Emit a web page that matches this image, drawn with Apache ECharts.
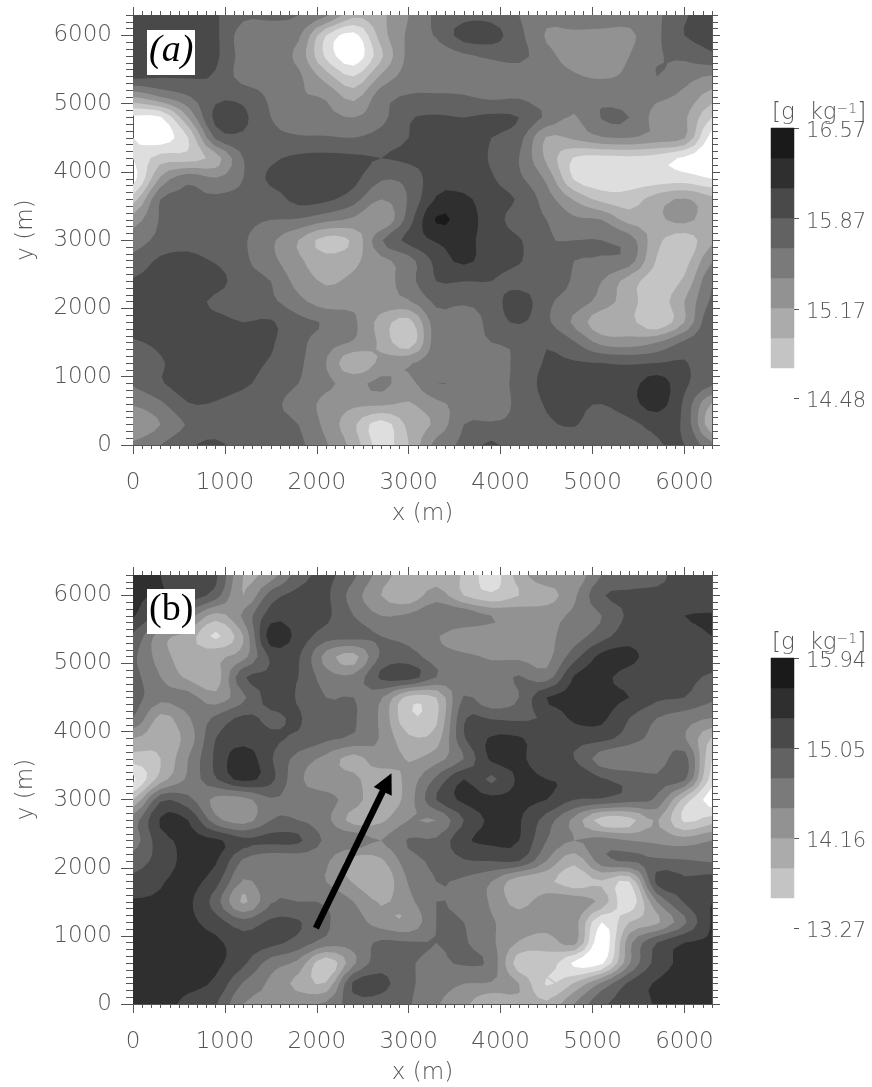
<!DOCTYPE html>
<html>
<head>
<meta charset="utf-8">
<title>humidity contours</title>
<style>
  html, body { margin: 0; padding: 0; background: #fff; }
  #chart { width: 872px; height: 1087px; }
</style>
<script src="https://cdn.jsdelivr.net/npm/echarts@6/dist/echarts.min.js"></script>
</head>
<body>
<div id="chart"></div>
<script>
// grid nodes every 300 m, rows run from y=6300 down to y=0
const xNodes = [0,300,600,900,1200,1500,1800,2100,2400,2700,3000,3300,3600,3900,4200,4500,4800,5100,5400,5700,6000,6300]
const yNodes = [6300,6000,5700,5400,5100,4800,4500,4200,3900,3600,3300,3000,2700,2400,2100,1800,1500,1200,900,600,300,0]

// values, in contour steps (1 = bottom of the colour bar)
const stepsA = [
  [7.3,7.2,7.2,7.1,6.2,6.2,6.0,5.2,3.3,3.8,5.0,6.2,6.7,6.7,6.0,5.3,5.9,5.9,5.4,5.8,6.9,7.4],
  [7.5,7.5,7.5,7.2,5.5,5.4,5.2,2.0,0.6,3.5,5.2,6.1,7.4,7.4,6.3,4.9,4.7,4.6,4.8,5.8,7.0,7.3],
  [7.6,7.6,7.6,7.2,5.6,5.5,4.7,1.8,0.3,2.8,5.3,5.3,5.8,6.2,6.3,5.3,4.6,4.5,5.0,5.9,6.2,6.8],
  [7.3,7.1,7.1,6.9,5.6,5.5,5.2,3.5,2.0,4.2,5.4,5.2,5.3,5.3,5.4,5.4,5.1,4.9,5.2,6.0,5.4,4.9],
  [4.0,5.0,5.9,6.8,6.7,5.8,5.1,4.9,3.7,5.6,6.1,6.2,6.1,5.8,5.9,5.4,5.3,5.7,5.3,5.2,4.7,3.5],
  [0.8,0.9,4.0,7.3,7.2,6.0,5.5,5.3,5.0,5.7,6.9,7.1,7.0,7.2,7.0,5.8,4.9,6.05,6.0,4.6,4.2,2.0],
  [1.0,0.5,2.0,6.2,6.8,6.3,6.1,6.1,6.0,6.4,7.0,7.3,7.4,7.0,6.4,3.9,4.2,4.9,5.0,4.6,4.1,0.5],
  [1.0,2.5,2.5,3.5,6.0,6.8,7.2,7.3,7.2,7.0,7.2,7.4,7.5,6.9,6.0,3.8,1.9,1.6,1.7,1.5,0.8,0.1],
  [0.6,4.2,5.7,5.1,6.0,7.2,7.3,7.9,7.3,6.1,6.3,7.6,7.5,7.1,6.2,4.8,1.9,1.4,1.5,1.5,1.5,1.0],
  [2.5,6.0,6.1,6.2,6.3,6.5,7.3,7.2,6.4,5.0,6.1,8.1,8.2,7.4,6.9,5.5,3.9,2.7,2.5,3.5,4.1,3.3],
  [4.5,6.1,6.2,6.2,6.2,6.0,5.9,5.3,4.8,4.0,6.5,9.1,8.5,7.5,6.5,6.0,5.2,5.0,3.6,3.8,4.3,3.3],
  [5.5,6.3,6.6,6.2,6.1,5.2,4.0,2.6,3.2,5.9,7.3,8.1,8.3,7.5,7.1,6.1,6.0,6.0,5.5,3.3,2.4,3.8],
  [6.3,7.2,7.3,6.9,6.2,5.3,4.2,3.4,3.8,4.7,5.6,7.3,8.2,7.4,7.1,6.2,6.0,5.9,5.5,2.9,2.6,4.9],
  [7.1,7.5,7.5,7.4,6.4,6.0,4.6,3.9,4.2,4.5,5.6,7.0,7.0,7.0,6.6,6.4,5.9,5.0,3.5,2.5,3.2,5.9],
  [7.3,7.5,7.4,6.8,6.4,6.2,5.3,4.5,4.7,4.6,4.9,6.2,6.2,6.5,7.6,6.2,5.6,4.6,3.4,2.5,4.0,6.2],
  [7.3,7.5,7.4,7.3,7.0,7.1,6.3,5.9,5.2,3.6,2.6,5.6,5.2,6.4,7.1,6.2,4.8,3.3,3.3,2.2,4.0,6.9],
  [6.9,7.2,7.5,7.5,7.4,7.1,6.3,5.4,4.9,3.8,2.3,5.6,5.6,6.0,6.2,6.9,6.1,4.7,4.5,5.0,6.2,6.8],
  [6.2,6.9,7.4,7.4,7.3,6.9,6.2,5.0,3.1,4.3,4.9,5.5,5.4,5.4,6.3,7.1,7.1,7.0,6.9,7.0,7.1,6.2],
  [6.1,6.9,7.5,7.5,7.2,6.5,6.0,5.2,4.8,5.2,4.7,6.0,5.7,5.6,6.3,7.3,7.4,7.4,7.6,8.5,7.2,6.2],
  [5.1,5.8,6.95,6.9,6.4,6.2,5.6,4.7,4.2,4.2,3.9,4.7,5.4,5.6,6.2,7.1,7.2,7.0,7.6,8.4,6.8,3.9],
  [4.1,5.0,6.1,6.2,6.2,6.2,6.0,4.7,3.2,1.5,3.3,4.2,6.0,6.1,6.2,6.8,7.1,6.3,6.7,7.3,6.8,3.2],
  [5.2,6.0,6.8,7.3,6.3,6.2,6.2,5.1,3.6,1.6,3.0,5.4,6.2,7.2,6.2,6.2,6.2,6.2,6.3,6.9,7.0,5.3]
]
const stepsB = [
  [8.0,8.0,7.3,7.2,4.0,4.5,6.5,7.2,6.2,4.5,3.5,3.5,2.9,1.5,3.5,4.8,4.3,6.0,6.4,6.6,7.7,7.8],
  [8.1,7.9,7.6,6.5,4.0,6.5,7.3,7.2,5.5,4.0,3.3,4.5,3.0,2.2,3.0,3.5,4.8,6.9,7.2,7.3,7.3,7.4],
  [8.1,6.5,5.5,3.6,5.2,7.5,7.5,7.2,6.0,5.0,5.2,5.9,5.8,5.0,4.8,4.7,5.2,6.0,7.2,7.4,8.0,8.1],
  [6.8,4.4,3.6,1.8,4.0,8.6,7.6,6.5,6.4,6.0,5.7,5.1,4.3,4.5,4.5,4.8,5.5,6.6,7.6,7.3,7.5,8.0],
  [6.2,4.5,3.5,3.8,4.6,7.2,7.1,4.6,3.6,6.2,6.4,5.5,5.2,4.9,4.8,4.7,6.6,8.3,8.3,7.4,7.4,7.3],
  [6.3,5.0,3.8,3.4,6.9,7.1,7.0,5.5,5.3,7.2,7.5,6.0,5.2,5.4,6.1,5.5,8.1,8.2,7.6,7.3,7.2,6.9],
  [6.4,5.3,5.4,4.4,5.8,7.4,6.9,6.0,6.0,5.1,2.6,3.0,6.1,5.1,6.0,8.0,8.2,8.2,8.0,7.2,7.0,6.2],
  [6.0,3.7,4.9,6.2,7.2,6.8,7.1,6.2,6.1,4.8,2.2,2.8,6.9,6.9,6.8,7.2,8.2,8.2,7.0,6.0,5.5,5.0],
  [4.0,3.4,4.4,7.0,7.6,7.2,6.8,6.2,5.8,4.9,3.2,3.5,6.9,8.1,8.1,7.4,7.3,7.3,6.5,5.6,5.1,2.9],
  [2.5,3.0,5.0,7.2,8.6,7.1,5.6,4.7,3.6,4.7,3.9,4.6,6.0,8.2,8.2,7.3,7.0,5.5,5.0,5.3,6.5,2.0],
  [0.8,3.5,5.2,6.9,8.3,7.3,5.2,4.5,4.3,3.2,4.4,6.2,8.0,6.8,8.2,8.0,7.9,7.1,6.7,6.2,6.2,1.5],
  [3.0,6.8,6.3,4.7,4.6,5.9,5.5,5.3,4.5,3.2,4.5,7.0,8.2,8.3,8.2,8.0,7.0,6.9,6.4,5.8,2.6,0.5],
  [5.5,8.1,8.0,5.4,4.5,6.0,6.0,5.3,3.6,3.8,5.0,5.0,7.0,8.2,8.1,6.5,4.7,2.5,2.6,4.1,1.8,2.5],
  [5.5,7.6,8.2,8.2,7.3,7.3,7.2,5.8,5.7,5.0,6.1,6.2,7.8,8.2,8.0,6.0,5.0,5.5,5.0,4.8,4.5,5.0],
  [6.5,7.4,8.3,8.1,5.8,5.2,5.3,5.2,3.5,3.8,5.6,6.2,6.9,7.0,7.0,5.0,3.3,5.6,6.1,6.2,6.1,5.9],
  [7.3,7.9,8.3,7.4,4.9,5.8,5.5,5.0,3.9,3.2,5.1,6.0,5.8,5.0,3.3,3.2,2.4,2.9,2.0,7.3,7.2,7.5],
  [8.1,8.1,8.2,6.5,3.8,5.9,6.0,5.9,5.0,3.9,4.7,6.0,5.6,4.9,3.6,4.7,4.6,3.7,1.3,5.0,7.1,8.0],
  [8.1,8.2,8.2,7.5,6.4,7.2,7.1,6.1,5.5,4.5,4.1,6.0,6.0,5.1,4.6,4.7,4.5,1.0,3.0,3.8,5.8,8.1],
  [8.2,8.3,8.3,8.2,7.4,7.3,6.6,5.6,5.4,6.2,6.1,6.0,6.1,5.2,3.9,3.3,4.4,0.2,4.7,7.0,8.0,8.1],
  [8.2,8.3,8.3,8.2,7.2,5.5,4.7,2.2,4.8,6.6,6.1,5.8,6.1,5.7,2.4,2.7,0.8,0.8,4.9,7.4,8.2,8.2],
  [8.1,8.2,8.2,7.8,5.9,4.8,3.7,3.1,7.2,7.3,6.2,5.5,5.0,4.9,4.0,1.9,3.1,5.2,7.2,8.1,8.2,8.2],
  [8.1,8.2,7.8,7.1,5.0,4.9,4.7,5.2,6.5,6.6,6.1,5.1,4.3,3.0,3.8,3.2,5.0,6.8,7.4,8.1,8.2,8.2]
]

// contour levels drawn in each panel
const levels = [1,2,3,4,5,6,7,8,9]

// colour bar tick values [g kg-1]
const barTicksA = [14.48, 15.17, 15.87, 16.57]
const barTicksB = [13.27, 14.16, 15.05, 15.94]

// arrow in panel b, tail then tip (m)
const arrowX = [1990, 2765]
const arrowY = [1114, 3255]

const xMax = 6300
const yMax = 6300
const gridColor = ['#ffffff','#dedede','#c4c4c4','#ababab','#929292','#7a7a7a','#626262','#494949','#2f2f2f','#1a1a1a']
const axisColor = '#555'
const font = 'DejaVu Sans'
const txtColor = '#555'
const subCells = 3

function range(step, max) {
  let out = []
  for (let v = 0; v <= max; v += step) out.push(v)
  return out
}

// all sub polygons of one level go into one path, so no seams show between them
echarts.graphic.registerShape('contourBand', echarts.graphic.extendShape({
  shape: { polys: [] },
  buildPath(ctx, shape) {
    shape.polys.forEach(p => {
      ctx.moveTo(p[0][0], p[0][1])
      for (let i = 1; i < p.length; i++) ctx.lineTo(p[i][0], p[i][1])
      ctx.closePath()
    })
  }
}))

function cr(a, b, c, d, t) {
  return b + 0.5 * t * (c - a + t * (2 * a - 5 * b + 4 * c - d + t * (3 * (b - c) + d - a)))
}

// rounded contour lines between the read nodes, same idea as smooth on a line
function surface(steps, fx, fy) {
  let nx = xNodes.length, ny = yNodes.length
  let i = Math.min(Math.floor(fx), nx - 2), j = Math.min(Math.floor(fy), ny - 2)
  let tx = fx - i, ty = fy - j
  let col = []
  for (let m = -1; m <= 2; m++) {
    let r = steps[Math.max(0, Math.min(ny - 1, j + m))]
    col.push(cr(r[Math.max(0, i - 1)], r[i], r[i + 1], r[Math.min(nx - 1, i + 2)], tx))
  }
  return cr(col[0], col[1], col[2], col[3], ty)
}

// keep the part of one quad at or above level t
function clipQuad(pts, t) {
  let out = []
  for (let i = 0; i < 4; i++) {
    let a = pts[i], b = pts[(i + 1) % 4]
    if (a[2] >= t) out.push(a)
    if ((a[2] >= t) !== (b[2] >= t)) {
      let f = (t - a[2]) / (b[2] - a[2])
      out.push([a[0] + (b[0] - a[0]) * f, a[1] + (b[1] - a[1]) * f])
    }
  }
  return out
}

function contourSeries(steps, xIdx, yIdx) {
  let nx = (xNodes.length - 1) * subCells + 1
  let ny = (yNodes.length - 1) * subCells + 1
  let fine = []
  for (let j = 0; j < ny; j++) {
    let row = []
    for (let i = 0; i < nx; i++) {
      let fx = i / subCells, fy = j / subCells
      row.push([xMax * i / (nx - 1), yMax * (1 - j / (ny - 1)), surface(steps, fx, fy)])
    }
    fine.push(row)
  }
  return {
    type: 'custom',
    xAxisIndex: xIdx,
    yAxisIndex: yIdx,
    coordinateSystem: 'cartesian2d',
    clip: true,
    silent: true,
    encode: { x: 1, y: 2 },
    data: levels.map(k => [k, 0, 0]),
    z: 1,
    renderItem(params, api) {
      let k = api.value(0)
      let polys = []
      for (let j = 0; j < ny - 1; j++) {
        for (let i = 0; i < nx - 1; i++) {
          let quad = [fine[j][i], fine[j][i + 1], fine[j + 1][i + 1], fine[j + 1][i]]
          let poly = clipQuad(quad, k)
          if (poly.length < 3) continue
          polys.push(poly.map(p => api.coord([p[0], p[1]])))
        }
      }
      return { type: 'contourBand', shape: { polys }, style: { fill: gridColor[k] } }
    }
  }
}

function barSeries(ticks, xIdx, yIdx) {
  let lo = ticks[0]
  let step = (ticks[3] - ticks[0]) / 9
  let data = []
  // lowest class is white in the picture, so it starts at one step up
  for (let k = 1; k < 9; k++) data.push([lo + step * k, lo + step * (k + 1), k + 1])
  return {
    type: 'custom',
    xAxisIndex: xIdx,
    yAxisIndex: yIdx,
    silent: true,
    encode: { y: [0, 1] },
    data,
    renderItem(params, api) {
      let a = api.coord([0, api.value(0)])
      let b = api.coord([1, api.value(1)])
      return {
        type: 'rect',
        shape: { x: a[0], y: b[1], width: b[0] - a[0], height: a[1] - b[1] },
        style: { fill: gridColor[api.value(2)], stroke: gridColor[api.value(2)], lineWidth: 0.5 }
      }
    }
  }
}

const labelFont = { color: txtColor, fontFamily: font, fontSize: 23, fontWeight: 200 }

// one ticks-only or labelled axis, the panels need four of each
function xAx(grid, pos, vals, len, labelled) {
  return {
    type: 'value', gridIndex: grid, position: pos, min: 0, max: xMax,
    splitLine: { show: false },
    axisLine: { show: true, onZero: false, lineStyle: { color: axisColor, width: 1 } },
    axisTick: { show: true, length: len, customValues: vals, lineStyle: { color: axisColor, width: 1 } },
    axisLabel: labelled
      ? Object.assign({ show: true, customValues: vals, margin: 27, formatter: v => String(v) }, labelFont)
      : { show: false },
    name: labelled ? 'x (m)' : '',
    nameLocation: 'middle',
    nameGap: 58,
    nameTextStyle: labelFont
  }
}

function yAx(grid, pos, vals, len, labelled) {
  return {
    type: 'value', gridIndex: grid, position: pos, min: 0, max: yMax,
    splitLine: { show: false },
    axisLine: { show: true, onZero: false, lineStyle: { color: axisColor, width: 1 } },
    axisTick: { show: true, length: len, customValues: vals, lineStyle: { color: axisColor, width: 1 } },
    axisLabel: labelled
      ? Object.assign({ show: true, customValues: vals, margin: 21, formatter: v => String(v) }, labelFont)
      : { show: false },
    name: labelled ? 'y (m)' : '',
    nameLocation: 'middle',
    nameGap: 95,
    nameTextStyle: labelFont
  }
}

const major = range(1000, 6000)
const minor = range(100, 6300)

function barX(grid) {
  return { type: 'value', gridIndex: grid, min: 0, max: 1, show: false }
}
function barY(grid, ticks) {
  return {
    type: 'value', gridIndex: grid, position: 'right', min: ticks[0], max: ticks[3],
    splitLine: { show: false },
    axisLine: { show: false, onZero: false },
    axisTick: { show: true, length: 5, customValues: ticks, lineStyle: { color: axisColor } },
    axisLabel: {
      show: true, customValues: ticks, margin: 12, color: txtColor,
      fontFamily: font, fontSize: 21, fontWeight: 200,
      verticalAlign: 'top', lineHeight: 8,
      formatter: v => v.toFixed(2)
    }
  }
}

function tag(text, top, style) {
  return [
    { type: 'rect', left: 147, top: top, shape: { width: 48, height: 45 }, style: { fill: '#fff' }, z: 10 },
    { type: 'text', left: 149, top: top + 2, z: 11, style: Object.assign({ text: text, fill: '#000', fontFamily: 'Liberation Serif', fontSize: 38 }, style) }
  ]
}

function unit(top) {
  return {
    type: 'text', left: 772, top: top, z: 11,
    style: {
      text: '[g  kg{s|\u22121}]',
      fill: txtColor, fontFamily: font, fontSize: 23, fontWeight: 200,
      rich: { s: { fontSize: 14, verticalAlign: 'top', fill: txtColor, fontFamily: font, fontWeight: 200, padding: [0, 0, 8, 0] } }
    }
  }
}

const chart = echarts.init(document.getElementById('chart'), null, { renderer: 'canvas' })
chart.setOption({
  animation: false,
  backgroundColor: '#fff',
  grid: [
    { left: 133, top: 15, width: 579, height: 430 },
    { left: 133, top: 575, width: 579, height: 429 },
    { left: 771, top: 128, width: 23, height: 270 },
    { left: 771, top: 658, width: 23, height: 270 }
  ],
  xAxis: [
    xAx(0, 'bottom', major, 9, true), xAx(0, 'bottom', minor, 4), xAx(0, 'top', major, 8), xAx(0, 'top', minor, 4),
    xAx(1, 'bottom', major, 9, true), xAx(1, 'bottom', minor, 4), xAx(1, 'top', major, 8), xAx(1, 'top', minor, 4),
    barX(2), barX(3)
  ],
  yAxis: [
    yAx(0, 'left', major, 12, true), yAx(0, 'left', minor, 7), yAx(0, 'right', major, 8), yAx(0, 'right', minor, 6),
    yAx(1, 'left', major, 12, true), yAx(1, 'left', minor, 7), yAx(1, 'right', major, 8), yAx(1, 'right', minor, 6),
    barY(2, barTicksA), barY(3, barTicksB)
  ],
  series: [
    contourSeries(stepsA, 0, 0),
    contourSeries(stepsB, 4, 4),
    barSeries(barTicksA, 8, 8),
    barSeries(barTicksB, 9, 9),
    {
      type: 'lines',
      coordinateSystem: 'cartesian2d',
      xAxisIndex: 4,
      yAxisIndex: 4,
      silent: true,
      z: 5,
      symbol: ['none', 'triangle'],
      symbolSize: 20,
      lineStyle: { color: '#000', width: 6.5, opacity: 1, curveness: 0 },
      data: [{ coords: [[arrowX[0], arrowY[0]], [arrowX[1], arrowY[1]]] }]
    }
  ],
  graphic: [].concat(
    tag('(a)', 30, { fontStyle: 'italic' }),
    tag('(b)', 589, {}),
    [unit(102), unit(632)]
  )
})
</script>
</body>
</html>
